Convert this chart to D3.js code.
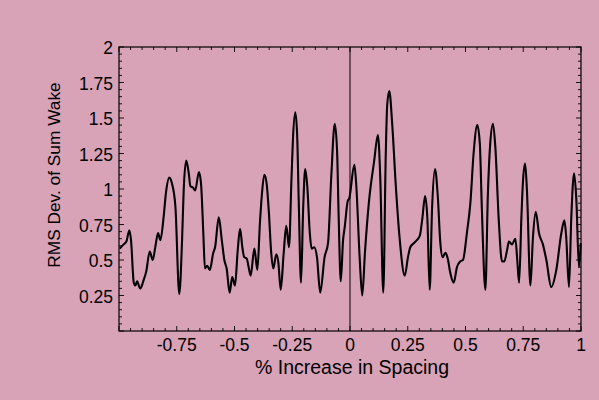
<!DOCTYPE html>
<html>
<head>
<meta charset="utf-8">
<script src="https://cdn.jsdelivr.net/npm/d3@7"></script>
<style>
  html, body { margin: 0; padding: 0; background: #d8a2b7; }
  svg { display: block; }
  text { font-family: "Liberation Sans", Arial, sans-serif; fill: #000; }
</style>
</head>
<body>
<svg id="chart" width="599" height="400"></svg>
<script>
// Spacing change (fraction) and RMS deviation of the summed wake
const spacing = [
  -0.997, -0.980, -0.968, -0.955, -0.948, -0.936, -0.929, -0.922, -0.908, -0.893,
  -0.882, -0.867, -0.854, -0.843, -0.831, -0.821, -0.807, -0.797, -0.782, -0.771,
  -0.756, -0.739, -0.727, -0.720, -0.709, -0.698, -0.691, -0.680, -0.670, -0.654,
  -0.645, -0.635, -0.628, -0.618, -0.607, -0.592, -0.584, -0.568, -0.555, -0.544,
  -0.534, -0.521, -0.510, -0.498, -0.486, -0.476, -0.466, -0.458, -0.447, -0.440,
  -0.430, -0.414, -0.401, -0.390, -0.382, -0.371, -0.361, -0.351, -0.342, -0.332,
  -0.319, -0.310, -0.300, -0.287, -0.276, -0.264, -0.254, -0.247, -0.237, -0.229,
  -0.222, -0.212, -0.203, -0.194, -0.185, -0.174, -0.166, -0.155, -0.143, -0.129,
  -0.110, -0.095, -0.081, -0.066, -0.056, -0.049, -0.040, -0.030, -0.023, -0.009,
  -0.004, 0.019, 0.027, 0.042, 0.053, 0.065, 0.082, 0.104, 0.121, 0.131,
  0.144, 0.155, 0.161, 0.170, 0.183, 0.198, 0.215, 0.237, 0.251, 0.261,
  0.277, 0.302, 0.313, 0.325, 0.335, 0.345, 0.355, 0.368, 0.380, 0.391,
  0.401, 0.413, 0.423, 0.434, 0.449, 0.463, 0.477, 0.489, 0.506, 0.521,
  0.535, 0.551, 0.562, 0.571, 0.586, 0.597, 0.607, 0.619, 0.629, 0.644,
  0.658, 0.668, 0.680, 0.688, 0.701, 0.716, 0.724, 0.732, 0.742, 0.749,
  0.758, 0.766, 0.781, 0.792, 0.804, 0.818, 0.835, 0.850, 0.871, 0.893,
  0.915, 0.928, 0.936, 0.948, 0.958, 0.970, 0.980, 0.991, 0.999
];
const rmsDev = [
  0.58, 0.61, 0.63, 0.71, 0.64, 0.34, 0.32, 0.35, 0.30, 0.36,
  0.42, 0.56, 0.50, 0.59, 0.69, 0.64, 0.80, 0.97, 1.08, 1.04,
  0.88, 0.26, 0.64, 0.99, 1.20, 1.11, 1.02, 1.01, 0.99, 1.12,
  1.04, 0.69, 0.44, 0.46, 0.43, 0.55, 0.59, 0.80, 0.64, 0.50,
  0.44, 0.27, 0.38, 0.32, 0.57, 0.72, 0.59, 0.52, 0.51, 0.46,
  0.39, 0.58, 0.43, 0.76, 0.95, 1.10, 1.04, 0.83, 0.57, 0.44,
  0.54, 0.48, 0.29, 0.55, 0.74, 0.59, 1.04, 1.35, 1.54, 1.39,
  0.92, 0.34, 0.85, 1.14, 1.02, 0.69, 0.58, 0.59, 0.52, 0.27,
  0.52, 0.62, 1.09, 1.46, 1.27, 0.80, 0.35, 0.64, 0.73, 0.92,
  0.93, 1.17, 1.03, 0.51, 0.25, 0.56, 0.91, 1.19, 1.38, 1.08,
  0.27, 1.26, 1.59, 1.69, 1.45, 1.03, 0.65, 0.39, 0.52, 0.59,
  0.62, 0.67, 0.79, 0.95, 0.79, 0.29, 0.85, 1.14, 0.95, 0.62,
  0.52, 0.55, 0.51, 0.41, 0.34, 0.45, 0.49, 0.50, 0.69, 0.90,
  1.25, 1.45, 1.32, 0.85, 0.29, 0.97, 1.32, 1.46, 1.30, 0.78,
  0.49, 0.49, 0.57, 0.63, 0.61, 0.65, 0.50, 0.34, 0.80, 1.06,
  1.18, 0.99, 0.32, 0.66, 0.84, 0.69, 0.61, 0.50, 0.31, 0.43,
  0.69, 0.78, 0.66, 0.31, 0.80, 1.11, 0.92, 0.45, 0.62
];
const xTicks = [-0.75, -0.5, -0.25, 0, 0.25, 0.5, 0.75, 1];
const yTicks = [0.25, 0.5, 0.75, 1, 1.25, 1.5, 1.75, 2];
const xLabel = "% Increase in Spacing";
const yLabel = "RMS Dev. of Sum Wake";

const svg = d3.select("#chart");
const margin = { left: 119, right: 18, top: 47, bottom: 69 };
const W = 599, H = 400;
const x = d3.scaleLinear().domain([-1, 1]).range([margin.left, W - margin.right]);
const y = d3.scaleLinear().domain([0, 2]).range([H - margin.bottom, margin.top]);

const fmt = d => String(d);

// Minor tick positions every 0.05
const xMinor = d3.range(-1, 1.0001, 0.05).map(v => +v.toFixed(2));
const yMinor = d3.range(0, 2.0001, 0.05).map(v => +v.toFixed(2));
const isMajor = v => Math.abs(v / 0.25 - Math.round(v / 0.25)) < 1e-6;

const g = svg.append("g");

// Curve
const line = d3.line()
  .x((d, i) => x(spacing[i]))
  .y(d => y(d))
  .curve(d3.curveMonotoneX);
g.append("path")
  .datum(rmsDev)
  .attr("d", line)
  .attr("fill", "none")
  .attr("stroke", "#000")
  .attr("stroke-width", 2.1)
  .attr("stroke-linejoin", "round");

// Vertical line at zero
g.append("line")
  .attr("x1", x(0)).attr("x2", x(0))
  .attr("y1", y(0)).attr("y2", y(2))
  .attr("stroke", "#000").attr("stroke-width", 1);

// Frame
g.append("rect")
  .attr("x", x(-1)).attr("y", y(2))
  .attr("width", x(1) - x(-1)).attr("height", y(0) - y(2))
  .attr("fill", "none").attr("stroke", "#000").attr("stroke-width", 1.2);

// Inward ticks on all four sides
const tickG = g.append("g").attr("stroke", "#000").attr("stroke-width", 0.9);
xMinor.forEach(v => {
  const len = isMajor(v) ? 5 : 3;
  tickG.append("line").attr("x1", x(v)).attr("x2", x(v)).attr("y1", y(0)).attr("y2", y(0) - len);
  tickG.append("line").attr("x1", x(v)).attr("x2", x(v)).attr("y1", y(2)).attr("y2", y(2) + len);
});
yMinor.forEach(v => {
  const len = isMajor(v) ? 5 : 3;
  tickG.append("line").attr("y1", y(v)).attr("y2", y(v)).attr("x1", x(-1)).attr("x2", x(-1) + len);
  tickG.append("line").attr("y1", y(v)).attr("y2", y(v)).attr("x1", x(1)).attr("x2", x(1) - len);
});

// Tick labels
g.selectAll(".xt").data(xTicks).enter().append("text")
  .attr("x", d => x(d)).attr("y", y(0) + 20)
  .attr("text-anchor", "middle").attr("font-size", 17.5)
  .text(d => fmt(d));
g.selectAll(".yt").data(yTicks).enter().append("text")
  .attr("x", x(-1) - 6).attr("y", d => y(d) + 7)
  .attr("text-anchor", "end").attr("font-size", 17.5)
  .text(d => fmt(d));

// Axis titles
svg.append("text")
  .attr("x", 352).attr("y", 374)
  .attr("text-anchor", "middle").attr("font-size", 19.5)
  .text(xLabel);
svg.append("text")
  .attr("transform", `translate(60, 175) rotate(-90)`)
  .attr("text-anchor", "middle").attr("font-size", 17.3)
  .text(yLabel);
</script>
</body>
</html>
